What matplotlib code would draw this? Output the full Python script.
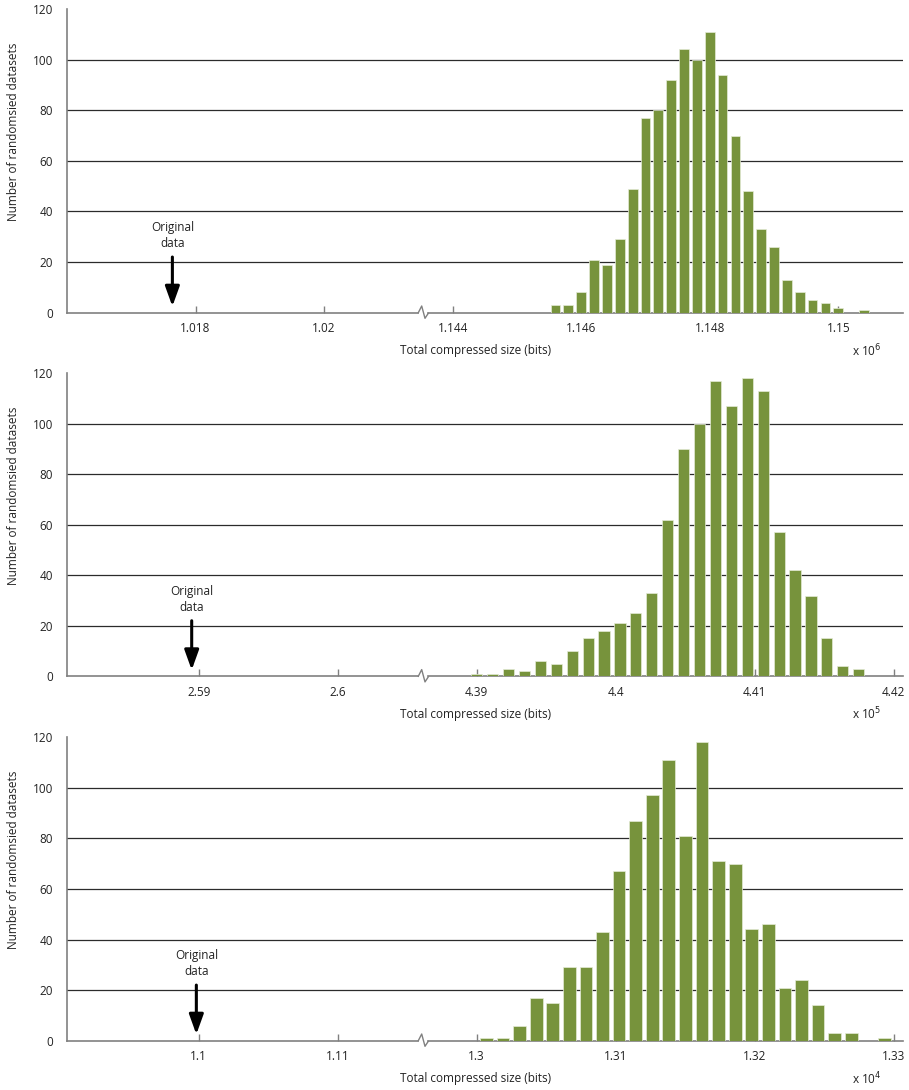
import matplotlib.pyplot as plt
from matplotlib.lines import Line2D

plt.rcParams['font.family'] = ['Open Sans', 'DejaVu Sans']

W, H = 909, 1090
GREEN = '#77933c'
GRID = '#2b2b2b'
AXIS = '#808080'

# --- top panel (x 10^6) ---
p1_left_ticks = [1.018, 1.02]
p1_left_labels = ['1.018', '1.02']
p1_right_ticks = [1.144, 1.146, 1.148, 1.15]
p1_right_labels = ['1.144', '1.146', '1.148', '1.15']
p1_centers = [1.1456, 1.1458, 1.1460, 1.1462, 1.1464, 1.1466, 1.1468, 1.1470,
              1.1472, 1.1474, 1.1476, 1.1478, 1.1480, 1.1482, 1.1484, 1.1486,
              1.1488, 1.1490, 1.1492, 1.1494, 1.1496, 1.1498, 1.1500, 1.1502,
              1.1504]
p1_counts = [3, 3, 8, 21, 19, 29, 49, 77, 80, 92, 104, 100, 111, 94, 70, 48,
             33, 26, 13, 8, 5, 4, 2, 0, 1]
p1_original = 1.01764

# --- middle panel (x 10^5) ---
p2_left_ticks = [2.59, 2.6]
p2_left_labels = ['2.59', '2.6']
p2_right_ticks = [4.39, 4.40, 4.41, 4.42]
p2_right_labels = ['4.39', '4.4', '4.41', '4.42']
p2_centers = [4.39000, 4.39115, 4.39229, 4.39344, 4.39458, 4.39573, 4.39687,
              4.39802, 4.39916, 4.40031, 4.40145, 4.40260, 4.40374, 4.40489,
              4.40603, 4.40718, 4.40832, 4.40947, 4.41061, 4.41176, 4.41290,
              4.41405, 4.41519, 4.41634, 4.41748]
p2_counts = [1, 1, 3, 2, 6, 5, 10, 15, 18, 21, 25, 33, 62, 90, 100, 117, 107,
             118, 113, 57, 42, 32, 15, 4, 3]
p2_original = 2.58947

# --- bottom panel (x 10^4) ---
p3_left_ticks = [1.10, 1.11]
p3_left_labels = ['1.1', '1.11']
p3_right_ticks = [1.30, 1.31, 1.32, 1.33]
p3_right_labels = ['1.3', '1.31', '1.32', '1.33']
p3_centers = [1.30070, 1.30189, 1.30309, 1.30428, 1.30547, 1.30667, 1.30786,
              1.30905, 1.31024, 1.31144, 1.31263, 1.31382, 1.31502, 1.31621,
              1.31740, 1.31860, 1.31979, 1.32098, 1.32217, 1.32337, 1.32456,
              1.32575, 1.32695, 1.32814, 1.32933]
p3_counts = [1, 1, 6, 17, 15, 29, 29, 43, 67, 87, 97, 111, 81, 118, 71, 70,
             44, 46, 21, 24, 14, 3, 3, 0, 1]
p3_original = 1.09983

x_label = 'Total compressed size (bits)'
y_label = 'Number of randomsied datasets'


def fx(px):
    return px / W


def fy(py):
    return 1 - py / H


def data_at(lim, frac):
    return lim[0] + frac * (lim[1] - lim[0])


def draw_panel(fig, top, bottom, left_lim, right_lim, lticks, llabels,
               rticks, rlabels, centers, counts, bar_w, original, exponent):
    x0, xb, x1 = 67, 424, 903
    axl = fig.add_axes([fx(x0), fy(bottom), fx(xb - x0), (bottom - top) / H])
    axr = fig.add_axes([fx(xb), fy(bottom), fx(x1 - xb), (bottom - top) / H])

    for ax, lim, ticks, labels in ((axl, left_lim, lticks, llabels),
                                   (axr, right_lim, rticks, rlabels)):
        ax.set_xlim(lim)
        ax.set_ylim(0, 120)
        ax.set_yticks(range(0, 121, 20))
        ax.set_xticks(ticks)
        ax.set_xticklabels(labels)
        ax.set_axisbelow(True)
        ax.yaxis.grid(True, color=GRID, lw=0.9)
        gl = ax.get_ygridlines()
        gl[0].set_visible(False)
        gl[-1].set_visible(False)
        ax.spines['top'].set_visible(False)
        ax.spines['right'].set_visible(False)
        ax.spines['bottom'].set_color(AXIS)
        ax.spines['bottom'].set_linewidth(1.2)
        ax.tick_params(axis='x', direction='in', length=5, width=1,
                       color=AXIS, labelsize=8.5, pad=7, labelcolor='#222222')
        ax.patch.set_visible(False)

    axl.spines['left'].set_color(AXIS)
    axl.spines['left'].set_linewidth(1.2)
    axl.tick_params(axis='y', length=0, labelsize=8.5, pad=10,
                    labelcolor='#222222')
    axr.spines['left'].set_visible(False)
    axr.tick_params(axis='y', left=False, labelleft=False)

    # leave a gap in the baseline for the break mark
    axl.spines['bottom'].set_bounds(left_lim[0],
                                    data_at(left_lim, (418 - x0) / (xb - x0)))
    axr.spines['bottom'].set_bounds(data_at(right_lim, (428 - xb) / (x1 - xb)),
                                    right_lim[1])
    bx = [418.3, 421.7, 425.0, 428.3]
    by = [bottom, bottom - 6.7, bottom + 5.6, bottom + 0.6]
    fig.add_artist(Line2D([fx(v) for v in bx], [fy(v) for v in by],
                          transform=fig.transFigure, color=AXIS, lw=1))

    axr.bar(centers, counts, width=bar_w, color=GREEN, edgecolor='#e4ebd6',
            linewidth=0.5, zorder=3)

    axl.annotate('', xy=(original, 2.5), xytext=(original, 22),
                 arrowprops=dict(arrowstyle='-|>,head_length=1.0,head_width=0.36',
                                 lw=2.2, color='black', mutation_scale=12,
                                 shrinkA=0, shrinkB=0), zorder=5)
    axl.text(original, 30.5, 'Original\ndata', ha='center', va='center',
             fontsize=8.5, color='#222222', linespacing=1.25)

    fig.text(fx(475.5), fy(bottom + 38), x_label, ha='center', va='center',
             fontsize=8.5, color='#222222')
    fig.text(fx(852), fy(bottom + 38), r'x 10$^{%d}$' % exponent, ha='left',
             va='center', fontsize=8.5, color='#222222')
    fig.text(fx(14), fy(top + 123), y_label, rotation=90, ha='center',
             va='center', fontsize=8.5, color='#222222')


fig = plt.figure(figsize=(W / 100, H / 100), dpi=100)

draw_panel(fig, 9, 312.7, (1.016, 1.021556), (1.143553, 1.151008),
           p1_left_ticks, p1_left_labels, p1_right_ticks, p1_right_labels,
           p1_centers, p1_counts, 0.000152, p1_original, 6)
draw_panel(fig, 373.3, 676.3, (2.58050, 2.60618), (4.386209, 4.420669),
           p2_left_ticks, p2_left_labels, p2_right_ticks, p2_right_labels,
           p2_centers, p2_counts, 0.00081, p2_original, 5)
draw_panel(fig, 737.3, 1040.7, (1.090525, 1.116208), (1.296209, 1.330669),
           p3_left_ticks, p3_left_labels, p3_right_ticks, p3_right_labels,
           p3_centers, p3_counts, 0.00091, p3_original, 4)

fig.savefig('out.png', dpi=100)
